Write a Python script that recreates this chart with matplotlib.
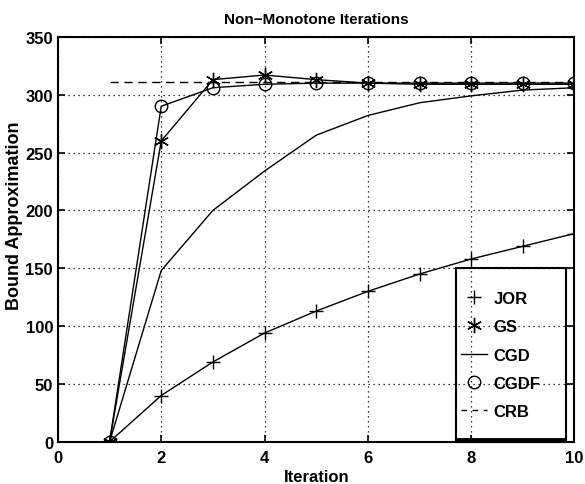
import numpy as np
from matplotlib import pyplot as plt
from matplotlib.lines import Line2D
from matplotlib.patches import Rectangle

plt.rcParams['font.family'] = ['Liberation Sans', 'DejaVu Sans']
plt.rcParams['font.weight'] = 'bold'

iters = [1, 2, 3, 4, 5, 6, 7, 8, 9, 10]
jor = [0, 40, 69, 94, 113, 130, 145, 158, 169, 180]
gs = [0, 260, 313, 317, 313, 310, 309, 309, 309, 309]
cgd = [0, 148, 200, 234, 265, 282, 293, 299, 304, 306]
cgdf = [0, 290, 306, 309, 310, 310, 310, 310, 310, 310]
crb_x = [1, 10]
crb = [311, 311]
names = ['JOR', 'GS', 'CGD', 'CGDF', 'CRB']

fig = plt.figure(figsize=(5.85, 4.85), dpi=100)
ax = fig.add_axes([0.099, 0.087, 0.883, 0.835])

star = (6, 2, 0)
ax.plot(iters, jor, 'k-', marker='+', markersize=10, markeredgewidth=1.0, linewidth=1.0)
ax.plot(iters, gs, 'k-', marker=star, markersize=11, markeredgewidth=1.0, linewidth=1.0)
ax.plot(iters, cgd, 'k-', linewidth=1.0)
ax.plot(iters, cgdf, 'k-', marker='o', markersize=9, fillstyle='none', markeredgewidth=1.0, linewidth=1.0)
ax.plot(crb_x, crb, 'k--', dashes=(6, 4), linewidth=1.0)

ax.set_xlim(0, 10)
ax.set_ylim(0, 350)
ax.set_xticks([0, 2, 4, 6, 8, 10])
ax.set_yticks(np.arange(0, 351, 50))
ax.grid(True, color='k', linestyle=(0, (1, 3)), linewidth=0.9)
ax.tick_params(direction='in', top=True, right=True, length=5, width=1.2, labelsize=12)
ax.tick_params(axis='x', pad=6)
for lbl in ax.get_xticklabels() + ax.get_yticklabels():
    lbl.set_fontweight('bold')
for sp in ax.spines.values():
    sp.set_linewidth(1.5)

ax.set_xlabel('Iteration', fontsize=12, fontweight='bold', labelpad=3)
ax.set_ylabel('Bound Approximation', fontsize=13, fontweight='bold')
ax.yaxis.set_label_coords(-0.068, 0.56)
ax.set_title('Non\u2212Monotone Iterations', fontsize=11, fontweight='bold', pad=10)

# legend: markers alone for marked series, lines for the others
handles = [
    Line2D([], [], color='k', linestyle='none', marker='+', markersize=10, markeredgewidth=1.0),
    Line2D([], [], color='k', linestyle='none', marker=star, markersize=11, markeredgewidth=1.0),
    Line2D([], [], color='k', linestyle='-', linewidth=1.0),
    Line2D([], [], color='k', linestyle='none', marker='o', markersize=9, fillstyle='none', markeredgewidth=1.0),
    Line2D([], [], color='k', linestyle='--', dashes=(4, 4), linewidth=1.0),
]
leg = ax.legend(handles, names, loc='center left', bbox_to_anchor=(0.780, 0.214),
                frameon=False, borderpad=0, borderaxespad=0, handlelength=1.6,
                handletextpad=0.35, labelspacing=0.8,
                prop={'weight': 'bold', 'size': 12})
box = Rectangle((0.771, 0.0), 0.212, 0.43, transform=ax.transAxes, fill=False,
                edgecolor='k', linewidth=1.5, zorder=5, clip_on=False)
ax.add_patch(box)
ax.plot([0.771, 0.983], [0.004, 0.004], transform=ax.transAxes, color='k',
        linewidth=3.5, solid_capstyle='butt', zorder=5, clip_on=False)

fig.savefig('out.png', dpi=100)
